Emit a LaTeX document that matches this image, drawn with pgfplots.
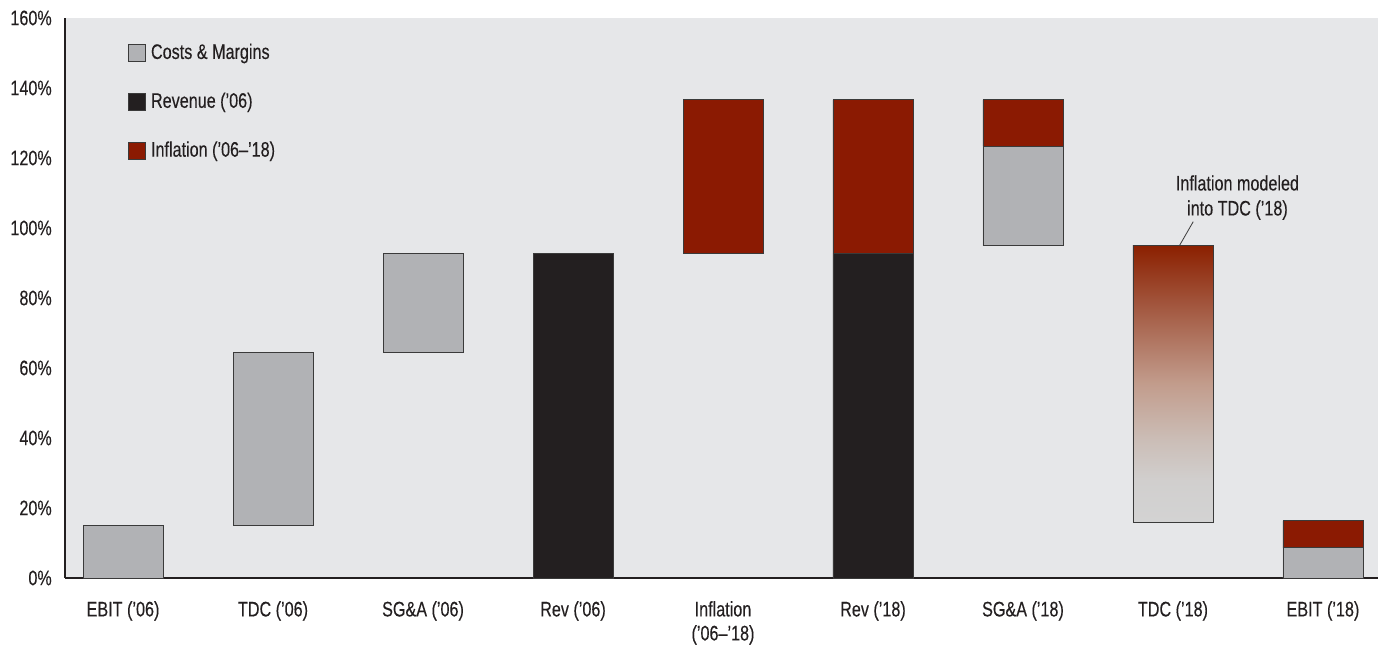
\documentclass[border=0pt]{standalone}
\usepackage{fontspec}
\setmainfont{Liberation Sans}[FakeStretch=0.77, FakeBold=0.25]
\usepackage{pgfplots}
\pgfplotsset{compat=1.18}
\definecolor{bgc}{HTML}{E6E7E9}
\definecolor{grayb}{HTML}{B1B2B5}
\definecolor{blackb}{HTML}{231F20}
\definecolor{redb}{HTML}{8B1A02}
\definecolor{outl}{HTML}{3A3A3A}
\definecolor{txt}{HTML}{231F20}
\definecolor{ga}{HTML}{D3D3D3}
\definecolor{gb}{HTML}{D1CFCE}
\definecolor{gc}{HTML}{CBBDB6}
\definecolor{gd}{HTML}{C29C8C}
\definecolor{ge}{HTML}{A96650}
\definecolor{gf}{HTML}{8B2000}
\pgfdeclareverticalshading{tdcgrad}{100bp}{color(0bp)=(ga); color(25bp)=(ga); color(32.5bp)=(gb); color(40bp)=(gc); color(50bp)=(gd); color(61bp)=(ge); color(75bp)=(gf); color(100bp)=(gf)}
\begin{document}
\fontsize{21}{25}\selectfont
\begin{tikzpicture}
\begin{axis}[
  name=ax,
  scale only axis,
  width=1313pt, height=560pt,
  xmin=-0.387, xmax=8.367,
  ymin=0, ymax=160,
  ybar stacked,
  bar width=80pt,
  axis x line*=bottom,
  axis y line*=left,
  axis line style={draw=txt, line width=1.3pt, -},
  axis background/.style={fill=bgc},
  major tick length=0pt,
  ytick={0,20,...,160},
  yticklabel={\pgfmathprintnumber{\tick}\%},
  /pgf/number format/assume math mode=true,
  yticklabel style={font=\fontsize{21}{25}\selectfont, text=txt, xshift=-6pt},
  xtick={0,1,2,3,4,5,6,7,8},
  xticklabels={EBIT (’06), TDC (’06), SG\&A (’06), Rev (’06), {Inflation\\(’06–’18)}, Rev (’18), SG\&A (’18), TDC (’18), EBIT (’18)},
  xticklabel style={font=\fontsize{21}{24}\selectfont, text=txt, align=center, yshift=-16pt, anchor=north},
  clip=false,
  legend cell align=left,
  legend style={at={(rel axis cs:0.048,0.958)}, anchor=north west, draw=none, fill=none, inner sep=0pt,
    font=\fontsize{21}{25}\selectfont, text=txt,
    /tikz/every odd column/.append style={column sep=3pt},
    row sep=26.5pt},
]
% invisible base
\addplot[draw=none, fill=none, forget plot] coordinates {(0,0) (1,15) (2,64.3) (3,0) (4,92.6) (5,0) (6,94.9) (7,16) (8,0)};
% gray costs & margins
\addplot[fill=grayb, draw=outl, line width=0.9pt, forget plot] coordinates {(0,15) (1,49.3) (2,28.3) (3,0) (4,0) (5,0) (6,28.5) (7,0) (8,8.6)};
% black revenue
\addplot[fill=blackb, draw=outl, line width=0.9pt, forget plot] coordinates {(0,0) (1,0) (2,0) (3,92.6) (4,0) (5,92.6) (6,0) (7,0) (8,0)};
% red inflation
\addplot[fill=redb, draw=outl, line width=0.9pt, forget plot] coordinates {(0,0) (1,0) (2,0) (3,0) (4,44) (5,44) (6,13.2) (7,0) (8,7.7)};
% gradient TDC '18
\addplot[shading=tdcgrad, shade, draw=outl, line width=0.9pt, forget plot] coordinates {(0,0) (1,0) (2,0) (3,0) (4,0) (5,0) (6,0) (7,79.1) (8,0)};
\addlegendimage{legend image code/.code={\draw[fill=grayb, draw=outl, line width=0.8pt] (0pt,-8.5pt) rectangle (17pt,8.5pt);}}
\addlegendentry{Costs \& Margins}
\addlegendimage{legend image code/.code={\draw[fill=blackb, draw=outl, line width=0.8pt] (0pt,-8.5pt) rectangle (17pt,8.5pt);}}
\addlegendentry{Revenue (’06)}
\addlegendimage{legend image code/.code={\draw[fill=redb, draw=outl, line width=0.8pt] (0pt,-8.5pt) rectangle (17pt,8.5pt);}}
\addlegendentry{Inflation (’06–’18)}
\draw[outl, line width=0.8pt] (axis cs:7.045,95.1) -- (axis cs:7.135,101.8);
\node[align=center, text=txt, font=\fontsize{21}{25}\selectfont] at (axis cs:7.43,108.7) {Inflation modeled\\into TDC (’18)};
\end{axis}
\pgfresetboundingbox
\path ([xshift=-65pt, yshift=-72pt]ax.south west) rectangle ([xshift=7pt, yshift=18pt]ax.north east);
\end{tikzpicture}
\end{document}
